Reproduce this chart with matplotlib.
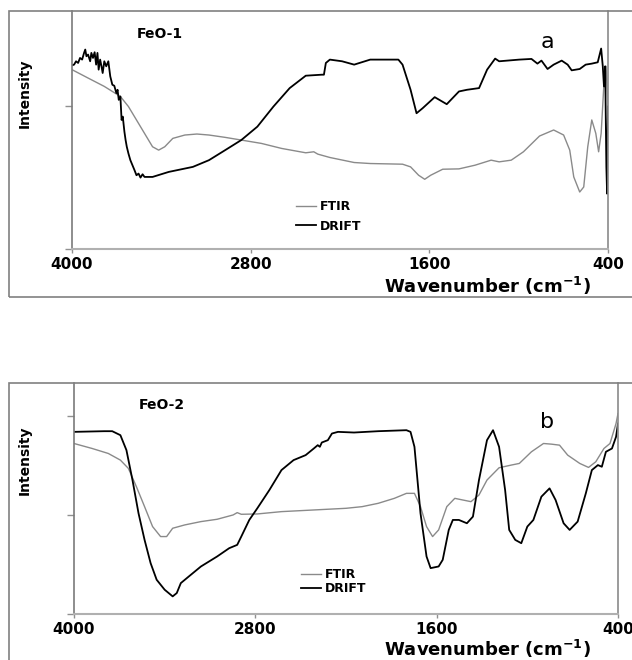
import numpy as np
import matplotlib
matplotlib.use('Agg')
import matplotlib.pyplot as plt
from matplotlib.patches import Rectangle

plt.rcParams['font.family'] = ['DejaVu Sans']

# === Panel a: FeO-1 (wavenumber, intensity a.u.) ===
a_drift_wn = [4000, 3986, 3973, 3959, 3946, 3932, 3919, 3911, 3903, 3892, 3878, 3870,
              3859, 3848, 3838, 3829, 3821, 3811, 3802, 3794, 3783, 3770, 3756, 3743,
              3729, 3716, 3702, 3694, 3686, 3675, 3667, 3659, 3648, 3640, 3632, 3621,
              3608, 3594, 3580, 3567, 3553, 3540, 3526, 3513, 3459, 3350, 3188, 3080,
              2971, 2863, 2755, 2647, 2538, 2430, 2322, 2308, 2295, 2268, 2186, 2105,
              1997, 1808, 1780, 1726, 1686, 1645, 1564, 1483, 1401, 1347, 1266, 1212,
              1158, 1131, 1077, 996, 914, 874, 847, 806, 765, 711, 671, 644, 590, 550,
              509, 469, 446, 435, 427, 419, 411, 406, 400]
a_drift = [548, 550, 560, 555, 570, 565, 585, 595, 575, 580, 560, 585,
           570, 587, 550, 585, 535, 565, 545, 525, 560, 545, 560, 515,
           490, 487, 465, 475, 445, 455, 385, 395, 350, 325, 305, 285,
           265, 250, 235, 220, 225, 213, 223, 215, 215, 230, 245, 265,
           295, 325, 365, 425, 480, 517, 520, 520, 555, 565, 560, 550,
           565, 565, 550, 475, 405, 420, 453, 432, 470, 475, 480, 535,
           568, 560, 562, 565, 567, 553, 562, 537, 550, 562, 550, 533, 537, 550,
           553, 557, 598, 545, 485, 545, 245, 165, 425]

a_ftir_wn = [4000, 3892, 3783, 3675, 3621, 3567, 3513, 3459, 3418, 3377, 3323, 3242,
             3161, 3080, 2971, 2863, 2728, 2592, 2430, 2376, 2349, 2268, 2105, 1997,
             1780, 1726, 1672, 1631, 1591, 1510, 1401, 1293, 1185, 1131, 1050, 968,
             860, 765, 698, 657, 630, 590, 563, 536, 509, 482, 463, 446, 427, 413, 400]
a_ftir = [535, 510, 485, 455, 425, 385, 345, 305, 295, 305, 330, 340,
          343, 340, 333, 325, 315, 300, 287, 290, 283, 273, 258, 255,
          253, 245, 220, 208, 220, 238, 239, 250, 265, 260, 265, 290,
          337, 355, 340, 295, 215, 170, 185, 305, 385, 345, 290, 345, 495, 545, 425]

# === Panel b: FeO-2 ===
b_drift_wn = [4000, 3800, 3747, 3693, 3653, 3613, 3573, 3533, 3493, 3453, 3400, 3347,
              3320, 3293, 3240, 3160, 3053, 2973, 2920, 2893, 2840, 2787, 2707, 2627,
              2547, 2467, 2413, 2387, 2373, 2360, 2320, 2293, 2253, 2147, 1987, 1800,
              1773, 1747, 1707, 1667, 1640, 1587, 1560, 1520, 1493, 1453, 1400, 1360,
              1320, 1267, 1227, 1187, 1147, 1120, 1080, 1040, 1000, 960, 907, 853,
              813, 760, 720, 667, 613, 573, 533, 507, 480, 440, 413, 400]
b_drift = [548, 550, 550, 538, 493, 403, 303, 223, 153, 103, 73, 53,
           63, 93, 113, 143, 173, 198, 208, 233, 283, 318, 373, 433,
           463, 478, 498, 508, 503, 516, 523, 543, 548, 546, 550, 553,
           548, 503, 303, 173, 138, 143, 163, 253, 283, 283, 273, 293,
           403, 523, 553, 503, 373, 253, 223, 213, 263, 283, 353, 378,
           343, 273, 253, 278, 363, 433, 448, 443, 488, 498, 533, 573]

b_ftir_wn = [4000, 3880, 3773, 3693, 3640, 3587, 3533, 3480, 3427, 3387, 3347, 3267,
             3160, 3053, 2947, 2920, 2893, 2787, 2627, 2413, 2200, 2093, 1987, 1880,
             1800, 1747, 1707, 1667, 1627, 1587, 1533, 1480, 1427, 1373, 1320, 1267,
             1187, 1107, 1053, 973, 893, 840, 787, 733, 653, 595, 547, 493, 453, 413, 400]
b_ftir = [513, 498, 483, 463, 438, 383, 323, 263, 233, 233, 258, 268,
          278, 285, 298, 305, 300, 301, 308, 313, 318, 323, 333, 348,
          363, 363, 323, 263, 233, 253, 323, 348, 343, 338, 358, 403,
          440, 448, 453, 488, 513, 511, 508, 478, 453, 441, 458, 498, 513, 573, 603]

x_ticks = [4000, 2800, 1600, 400]

fig = plt.figure(figsize=(6.32, 6.6), dpi=100)
W, H = 632, 660

def fig_box(x0, y0, x1, y1):
    # pixel box -> figure fraction [left, bottom, width, height]
    return [x0 / W, 1 - y1 / H, (x1 - x0) / W, (y1 - y0) / H]

# outer frames around each panel
for (x0, y0, x1, y1) in [(9, 11, 640, 297), (9, 383, 640, 670)]:
    fig.patches.append(Rectangle((x0 / W, 1 - y1 / H), (x1 - x0) / W, (y1 - y0) / H,
                                 transform=fig.transFigure, fill=False,
                                 edgecolor='#808080', linewidth=1.2))

panels = [
    dict(box=fig_box(72, 11, 608, 249), drift=(a_drift_wn, a_drift), ftir=(a_ftir_wn, a_ftir),
         ylim=710, yticks=[0, 427], name='FeO-1', letter='a',
         name_xy=(137, 34), letter_xy=(547, 42), ylab_xy=(25, 93),
         xlab_xy=(487, 286), leg_xy=(296, 200), leg_space=0.55),
    dict(box=fig_box(74, 383, 618, 614), drift=(b_drift_wn, b_drift), ftir=(b_ftir_wn, b_ftir),
         ylim=695, yticks=[0, 298, 596], name='FeO-2', letter='b',
         name_xy=(139, 405), letter_xy=(547, 422), ylab_xy=(25, 460),
         xlab_xy=(487, 649), leg_xy=(301, 568), leg_space=0.12),
]

for p in panels:
    ax = fig.add_axes(p['box'])
    ax.plot(p['ftir'][0], p['ftir'][1], color='#8a8a8a', linewidth=1.0, label='FTIR')
    ax.plot(p['drift'][0], p['drift'][1], color='black', linewidth=1.3, label='DRIFT')
    ax.set_xlim(4000, 400)
    ax.set_ylim(0, p['ylim'])
    ax.set_xticks(x_ticks)
    ax.set_xticklabels([str(t) for t in x_ticks], fontsize=11, fontweight='bold')
    ax.set_yticks(p['yticks'])
    ax.set_yticklabels([])
    ax.tick_params(axis='x', direction='out', length=3, width=1, color='#909090', pad=3)
    ax.tick_params(axis='y', direction='out', length=5, width=1, color='#909090')
    ax.spines['top'].set_visible(False)
    ax.spines['left'].set_color('#7a7a7a')
    ax.spines['left'].set_linewidth(1.2)
    ax.spines['right'].set_color('#8a8a8a')
    ax.spines['right'].set_linewidth(1.2)
    ax.spines['bottom'].set_color('#b0b0b0')
    ax.spines['bottom'].set_linewidth(1.5)

    leg = ax.legend(loc='upper left', bbox_to_anchor=(p['leg_xy'][0] / W, 1 - p['leg_xy'][1] / H),
                    bbox_transform=fig.transFigure, frameon=False,
                    prop={'size': 9, 'weight': 'bold'}, handlelength=1.6,
                    handletextpad=0.3, labelspacing=p['leg_space'], borderpad=0, borderaxespad=0)

    fig.text(p['name_xy'][0] / W, 1 - p['name_xy'][1] / H, p['name'],
             fontsize=10, fontweight='bold', ha='left', va='center')
    fig.text(p['letter_xy'][0] / W, 1 - p['letter_xy'][1] / H, p['letter'],
             fontsize=16, ha='center', va='center')
    fig.text(p['ylab_xy'][0] / W, 1 - p['ylab_xy'][1] / H, 'Intensity',
             fontsize=10, fontweight='bold', rotation=90, ha='center', va='center')
    fig.text(p['xlab_xy'][0] / W, 1 - p['xlab_xy'][1] / H, r'Wavenumber (cm$^{\mathbf{-1}}$)',
             fontsize=13, fontweight='bold', ha='center', va='center')

plt.savefig('out.png', dpi=100)
